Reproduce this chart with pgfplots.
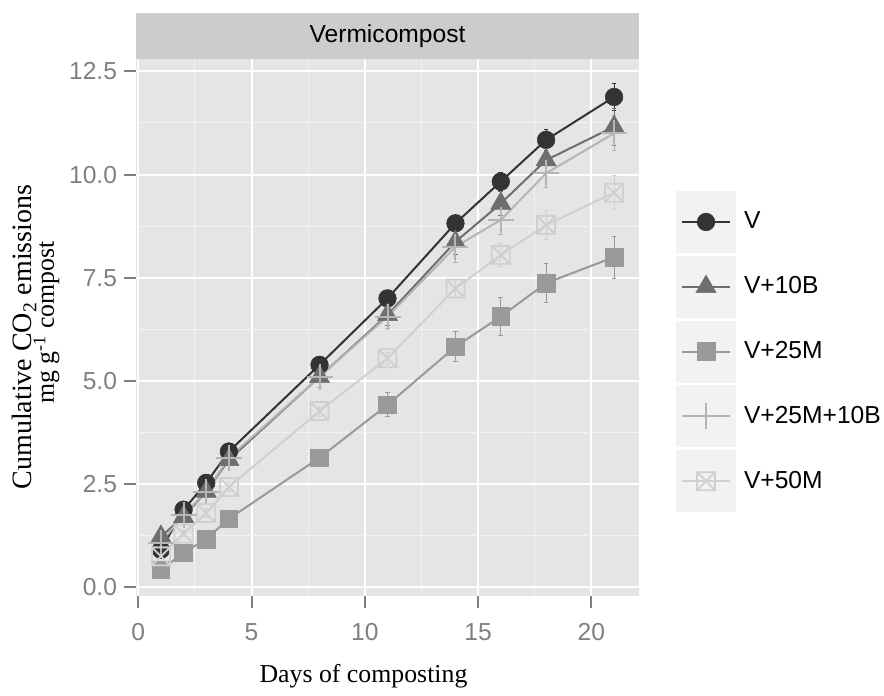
\documentclass[border=0pt]{standalone}
\usepackage{fontspec}
\setmainfont{Liberation Sans}
\newfontfamily\titlefont{Liberation Serif}
\usepackage{pgfplots}
\usepackage{pgfplotstable}
\pgfplotsset{compat=1.18}
\usetikzlibrary{plotmarks}

\definecolor{cV}{HTML}{333333}
\definecolor{cB}{HTML}{6E6E6E}
\definecolor{cM}{HTML}{999999}
\definecolor{cMB}{HTML}{B5B5B5}
\definecolor{cMM}{HTML}{D0D0D0}
\definecolor{panelbg}{HTML}{E5E5E5}
\definecolor{gridminor}{HTML}{F2F2F2}
\definecolor{stripbg}{HTML}{CCCCCC}
\definecolor{keybg}{HTML}{F2F2F2}
\definecolor{tickgray}{HTML}{808080}

% square with a cross inside
\pgfdeclareplotmark{boxx}{%
  \pgfpathrectangle{\pgfpoint{-\pgfplotmarksize}{-\pgfplotmarksize}}{\pgfpoint{2\pgfplotmarksize}{2\pgfplotmarksize}}%
  \pgfpathmoveto{\pgfpoint{-\pgfplotmarksize}{-\pgfplotmarksize}}%
  \pgfpathlineto{\pgfpoint{\pgfplotmarksize}{\pgfplotmarksize}}%
  \pgfpathmoveto{\pgfpoint{-\pgfplotmarksize}{\pgfplotmarksize}}%
  \pgfpathlineto{\pgfpoint{\pgfplotmarksize}{-\pgfplotmarksize}}%
  \pgfusepathqstroke}

% days, mean and error for each treatment
\pgfplotstableread{
d   V     eV    B     eB    M     eM    MB    eMB   MM    eMM
1   0.91  0.10  1.23  0.12  0.42  0.05  1.08  0.10  0.75  0.06
2   1.88  0.10  1.71  0.12  0.84  0.06  1.76  0.10  1.30  0.08
3   2.53  0.12  2.32  0.15  1.17  0.07  2.32  0.15  1.80  0.10
4   3.29  0.12  3.09  0.15  1.66  0.08  3.14  0.18  2.43  0.10
8   5.39  0.18  5.10  0.25  3.14  0.10  5.10  0.25  4.27  0.12
11  7.00  0.20  6.60  0.25  4.42  0.29  6.56  0.28  5.55  0.15
14  8.82  0.20  8.37  0.30  5.83  0.36  8.25  0.38  7.24  0.22
16  9.83  0.22  9.30  0.30  6.56  0.45  8.90  0.35  8.05  0.28
18  10.84 0.25  10.35 0.32  7.37  0.47  10.03 0.35  8.78  0.35
21  11.88 0.32  11.16 0.45  8.00  0.51  11.00 0.42  9.56  0.41
}\co

\begin{document}
\begin{tikzpicture}
\begin{axis}[
  at={(0,0)}, anchor=south west,
  scale only axis, width=251.5bp, height=268.5bp,
  xmin=-0.1, xmax=22.1, ymin=-0.21, ymax=12.8,
  xtick={0,5,10,15,20}, ytick={0,2.5,5,7.5,10,12.5},
  minor tick num=1,
  grid=both,
  major grid style={white, line width=1bp},
  minor grid style={gridminor, line width=0.5bp},
  axis background/.style={fill=panelbg},
  axis line style={draw=none},
  tick align=outside, tick pos=left,
  major tick length=6bp, minor tick length=0pt,
  tick style={tickgray, line width=1bp},
  /pgf/number format/assume math mode=true,
  ticklabel style={font=\fontsize{12.3bp}{14bp}\selectfont, text=tickgray},
  yticklabel style={/pgf/number format/fixed, /pgf/number format/fixed zerofill,
    /pgf/number format/precision=1},
  xticklabel style={inner sep=0pt, yshift=-7.7bp},
  yticklabel style={inner sep=0pt, xshift=-3.3bp},
  legend cell align=left,
  legend style={at={(1.0736,0.7542)}, anchor=north west, draw=none, fill=none,
    inner sep=0pt, outer sep=0pt, row sep=1.4bp, column sep=4bp,
    nodes={inner sep=0pt, outer sep=0pt},
    font=\fontsize{12.3bp}{14bp}\selectfont},
  legend image code/.code={%
    \fill[keybg] (0bp,-15bp) rectangle (29bp,15bp);
    \draw[mark repeat=2,mark phase=2,#1] plot coordinates {(2.5bp,0bp) (14.5bp,0bp) (26.5bp,0bp)};},
  every axis plot/.append style={line width=1bp},
  error bars/y dir=both, error bars/y explicit,
  error bars/error bar style={line width=0.5bp},
  error bars/error mark options={rotate=90, mark size=1.15bp, line width=0.5bp},
]
\addplot[cV, mark=*, mark size=4.4bp, mark options={fill=cV, line width=0.3bp}]
  table[x=d, y=V, y error=eV] {\co};
\addlegendentry{V}
\addplot[cB, mark=triangle*, mark size=5.8bp, mark options={fill=cB, line width=0.3bp}]
  table[x=d, y=B, y error=eB] {\co};
\addlegendentry{V+10B}
\addplot[cM, mark=square*, mark size=4.4bp, mark options={fill=cM, line width=0.3bp}]
  table[x=d, y=M, y error=eM] {\co};
\addlegendentry{V+25M}
\addplot[cMB, mark=+, mark size=6.5bp, mark options={line width=1bp}]
  table[x=d, y=MB, y error=eMB] {\co};
\addlegendentry{V+25M+10B}
\addplot[cMM, mark=boxx, mark size=4.5bp, mark options={line width=0.9bp}]
  table[x=d, y=MM, y error=eMM] {\co};
\addlegendentry{V+50M}
\end{axis}
% facet strip
\node[fill=stripbg, minimum width=251.5bp, minimum height=23bp, inner sep=0pt,
  outer sep=0pt, anchor=south, font=\fontsize{12.3bp}{14bp}\selectfont]
  at (125.75bp,268.5bp) {Vermicompost};
\node[font=\titlefont\fontsize{12.9bp}{15bp}\selectfont, anchor=base]
  at (113.75bp,-43.5bp) {Days of composting};
\node[font=\titlefont\fontsize{14bp}{15bp}\selectfont, rotate=90, anchor=base]
  at (-52bp,129.5bp) {Cumulative CO\textsubscript{2} emissions};
\node[font=\titlefont\fontsize{12.9bp}{15bp}\selectfont, rotate=90, anchor=base]
  at (-41bp,136.75bp) {mg g\textsuperscript{-1} compost};
\path (-68bp,-47bp) rectangle (374bp,298bp);
\end{tikzpicture}
\end{document}
